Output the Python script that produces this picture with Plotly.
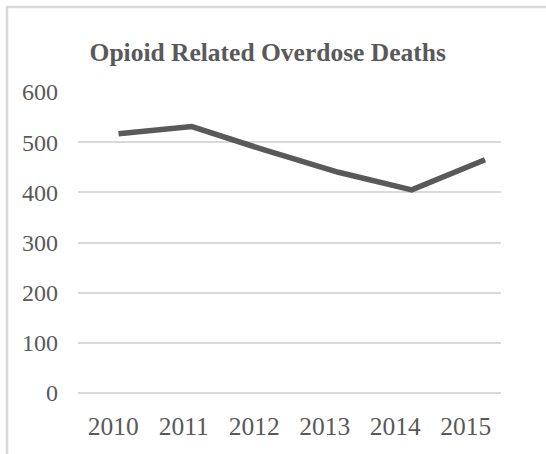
import plotly.graph_objects as go

years = ["2010", "2011", "2012", "2013", "2014", "2015"]
deaths = [517, 531, 484, 440, 405, 465]
y_ticks = [0, 100, 200, 300, 400, 500, 600]

W, H = 546, 454
L, R, T, B = 78, 45, 92, 61

fig = go.Figure()
# invisible anchor trace so the category tick axis is drawn
fig.add_trace(go.Scatter(
    x=list(range(len(years))), y=deaths, xaxis="x", yaxis="y",
    mode="markers", marker=dict(opacity=0),
    hoverinfo="skip", showlegend=False,
))
fig.add_trace(go.Scatter(
    x=years, y=deaths, xaxis="x2", yaxis="y",
    mode="lines",
    line=dict(color="#595959", width=5.5),
    hoverinfo="skip", showlegend=False,
))

font_family = "Liberation Serif, Times New Roman, serif"
pw = W - L - R
ph = H - T - B

fig.update_layout(
    width=W, height=H,
    margin=dict(l=L, r=R, t=T, b=B, pad=0),
    paper_bgcolor="white", plot_bgcolor="white",
    font=dict(family=font_family, color="#595959", size=23),
    title=dict(
        text="<b>Opioid Related Overdose Deaths</b>",
        x=267.7 / W, xanchor="center", xref="container",
        y=1 - 52 / H, yanchor="middle", yref="container",
        font=dict(family=font_family, size=25.5, color="#595959"),
    ),
    xaxis=dict(
        range=[-0.5, len(years) - 0.5],
        tickmode="array", tickvals=list(range(len(years))), ticktext=years,
        showgrid=False, zeroline=False, showline=False,
        ticks="", ticklabelstandoff=15,
        tickfont=dict(size=25.5, color="#595959"),
        fixedrange=True,
    ),
    xaxis2=dict(
        type="category", overlaying="x", anchor="y",
        range=[-0.553, 5.218], visible=False,
    ),
    yaxis=dict(
        range=[0, 600], tickmode="array", tickvals=y_ticks,
        showgrid=True, gridcolor="#d9d9d9", gridwidth=1.5,
        zeroline=True, zerolinecolor="#d9d9d9", zerolinewidth=1.5,
        showline=False, ticks="",
        ticklabelstandoff=19,
        tickfont=dict(size=24, color="#595959"),
    ),
)

# outer chart border (light gray), extending beyond right/bottom edges
fig.add_shape(
    type="rect", xref="paper", yref="paper",
    x0=(7 - L) / pw, x1=(W + 20 - L) / pw,
    y0=-(B + 20) / ph, y1=1 + (T - 7) / ph,
    line=dict(color="#d9d9d9", width=2.5), fillcolor="rgba(0,0,0,0)",
    layer="below",
)

fig.write_html("out.html")
